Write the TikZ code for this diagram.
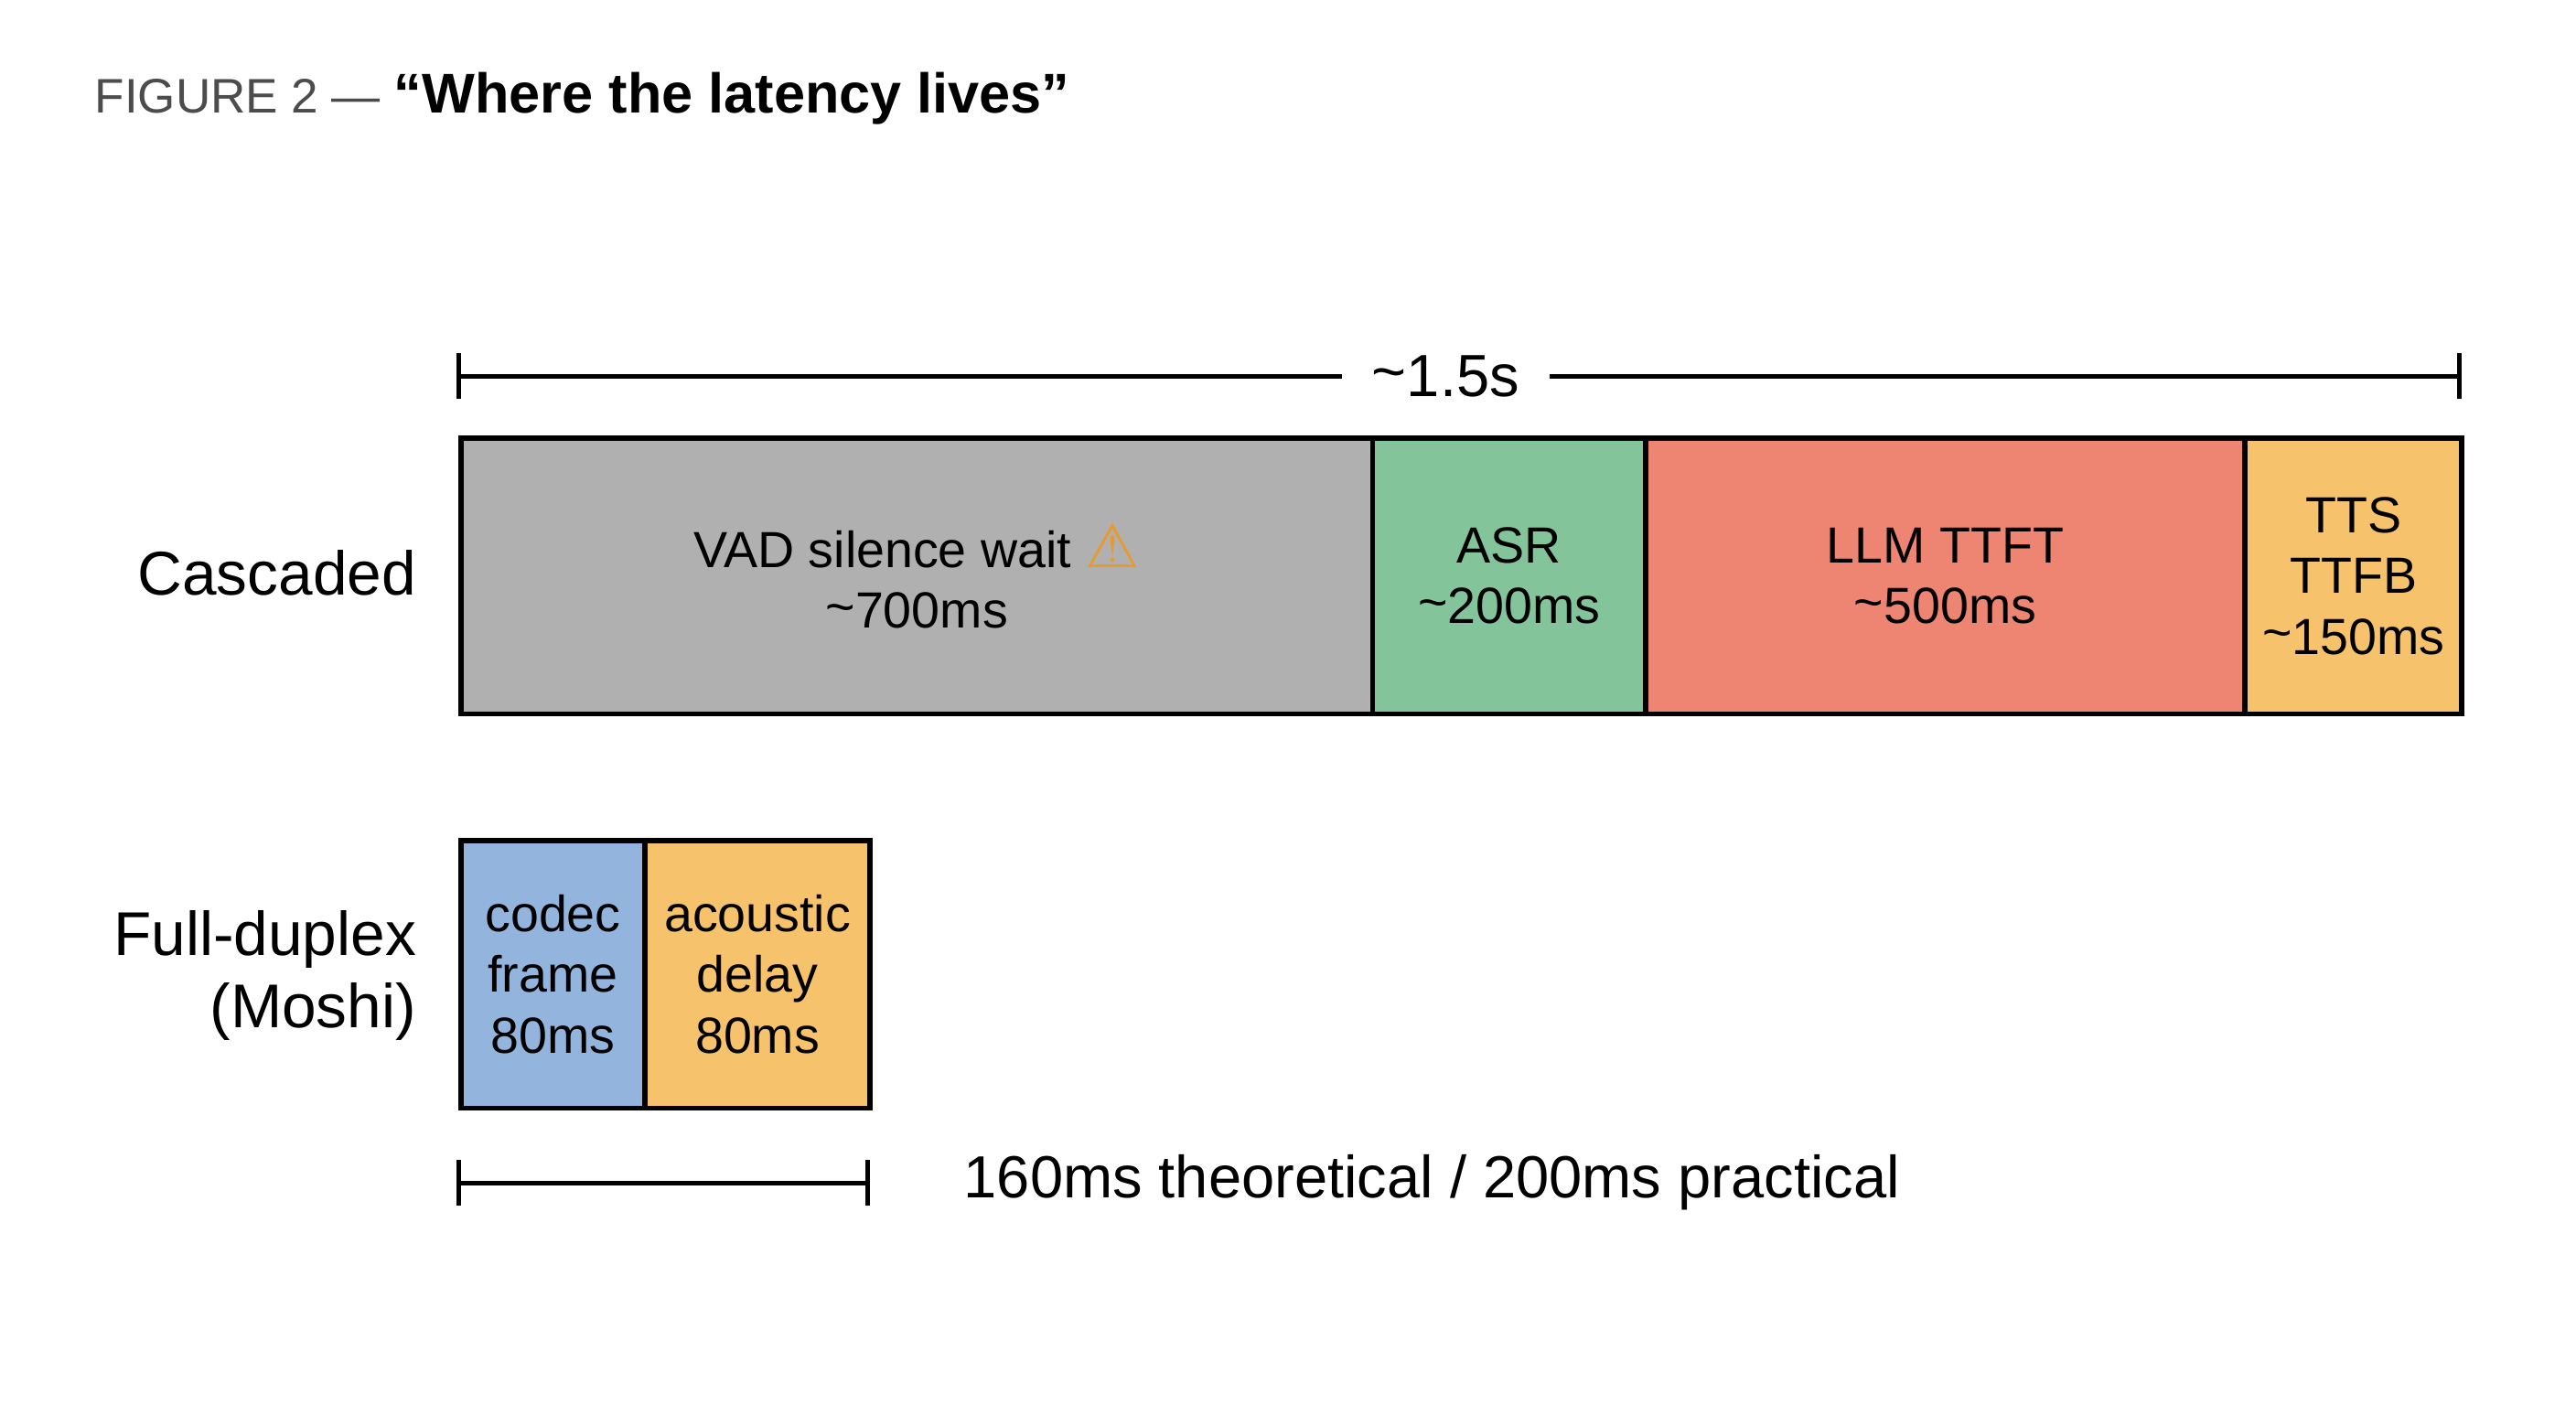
\documentclass[tikz,border=0pt]{standalone}
\usepackage{fontspec}
\setmainfont{Liberation Sans}
\newfontfamily\symfont{DejaVu Sans}
\usetikzlibrary{positioning}
\definecolor{vadgray}{HTML}{B0B0B0}
\definecolor{asrgreen}{HTML}{84C49B}
\definecolor{llmred}{HTML}{EE8572}
\definecolor{ttsorange}{HTML}{F6C26B}
\definecolor{codecblue}{HTML}{93B4DC}
\definecolor{warnorange}{HTML}{E89A2C}
\newcommand{\tld}{\raisebox{0.15ex}{\textasciitilde}}
\begin{document}
\begin{tikzpicture}[x=0.01cm,y=-0.01cm]
			\tikzstyle{Seg}		= [draw, line width=0.9pt, anchor=north west, inner sep=0pt, align=center, font=\fontsize{8.8}{10.5}\selectfont]
			\tikzstyle{RowLabel}	= [anchor=east, align=right, inner sep=0pt, font=\fontsize{10.7}{12.5}\selectfont]
			\tikzstyle{Span}	= [line width=0.8pt]
			
			\useasboundingbox (0,0) rectangle (1568,855);
			
			\node (title) at (57,60) [anchor=west, inner sep=0pt, font=\fontsize{8.4}{10}\selectfont] {\textcolor{black!70}{FIGURE 2 —} \textbf{\fontsize{9.7}{11}\selectfont “Where the latency lives”}};
			
			% cascaded pipeline
			\node (vad) at (279,265) [Seg, fill=vadgray, minimum width=555*0.01cm, minimum height=168*0.01cm] {VAD silence wait {\symfont\fontsize{10.5}{10}\selectfont\color{warnorange}⚠}\\\tld700ms};
			\node (asr) at (834,265) [Seg, fill=asrgreen, minimum width=166*0.01cm, minimum height=168*0.01cm] {ASR\\\tld200ms};
			\node (llm) at (1000,265) [Seg, fill=llmred, minimum width=365*0.01cm, minimum height=168*0.01cm] {LLM TTFT\\\tld500ms};
			\node (tts) at (1365,265) [Seg, fill=ttsorange, minimum width=132*0.01cm, minimum height=168*0.01cm] {TTS\\TTFB\\\tld150ms};
			\node (cas) at (254,349) [RowLabel] {Cascaded};
			
			% total span
			\coordinate (c0) at (279,229);
			\coordinate (c1) at (1497,229);
			\node (total) at (880,229) [fill=white, inner xsep=5pt, font=\fontsize{10.3}{12}\selectfont] {\tld1.5s};
			\draw [Span] (c0) -- (total.west);
			\draw [Span] (total.east) -- (c1);
			\draw [Span] ([yshift=-0.14cm]c0) -- ([yshift=0.14cm]c0);
			\draw [Span] ([yshift=-0.14cm]c1) -- ([yshift=0.14cm]c1);
			
			% full-duplex
			\node (codec) at (279,510) [Seg, fill=codecblue, minimum width=112*0.01cm, minimum height=163*0.01cm] {codec\\frame\\80ms};
			\node (delay) at (391,510) [Seg, fill=ttsorange, minimum width=137*0.01cm, minimum height=163*0.01cm] {acoustic\\delay\\80ms};
			\node (fd) at (254,594) [RowLabel] {Full-duplex\\(Moshi)};
			
			\coordinate (d0) at (279,720);
			\coordinate (d1) at (528,720);
			\draw [Span] (d0) -- (d1);
			\draw [Span] ([yshift=-0.14cm]d0) -- ([yshift=0.14cm]d0);
			\draw [Span] ([yshift=-0.14cm]d1) -- ([yshift=0.14cm]d1);
			\node (note) at (586,720) [anchor=west, inner sep=0pt, font=\fontsize{10.3}{12}\selectfont] {160ms theoretical / 200ms practical};
		\end{tikzpicture}
\end{document}
